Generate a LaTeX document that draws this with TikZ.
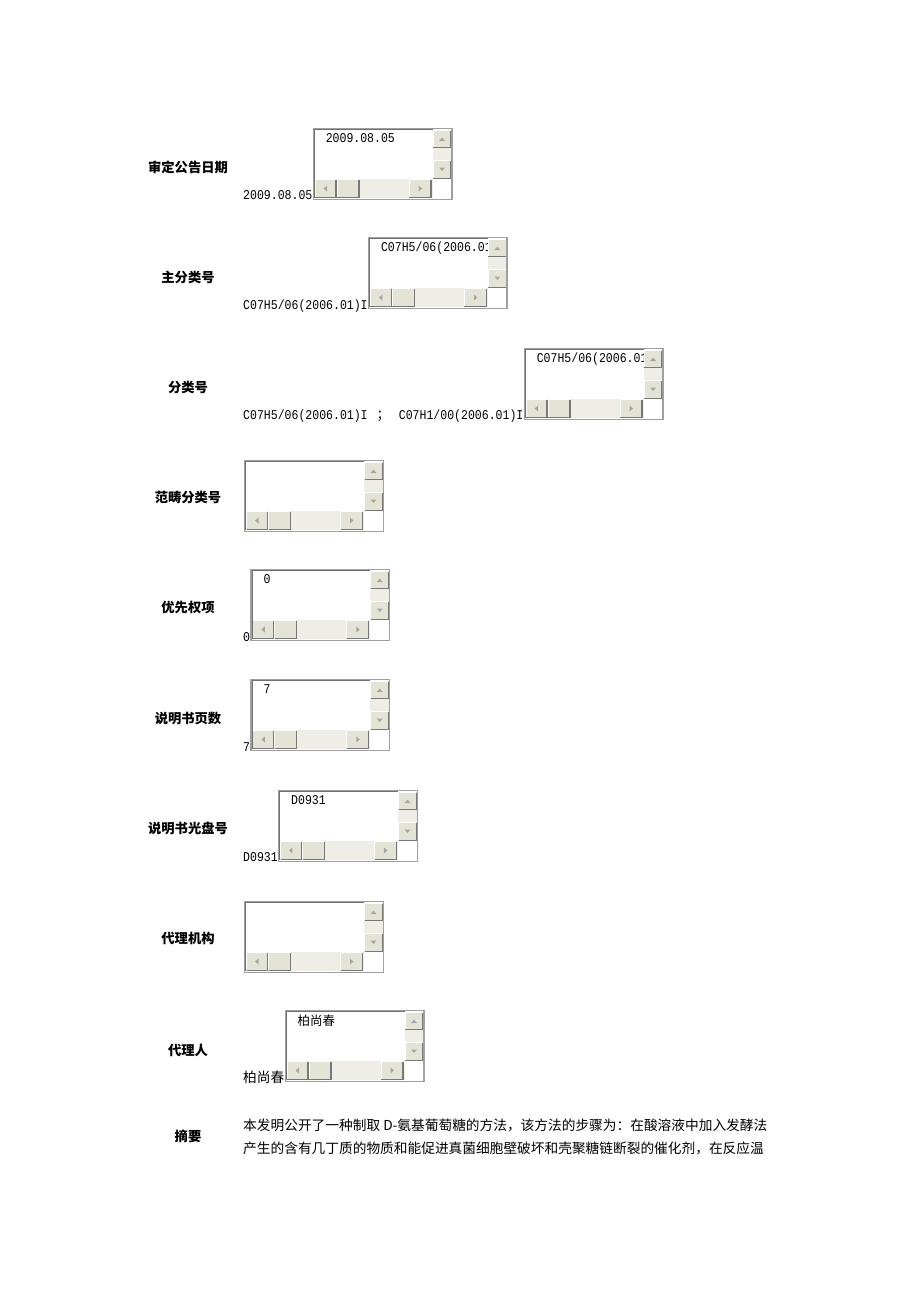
\documentclass[tikz,border=0pt]{standalone}
\usepackage{fontspec}
\newfontfamily\cjk{Noto Sans CJK SC}
\newfontfamily\mono[FakeStretch=0.86]{Liberation Mono}
\definecolor{frameGray}{HTML}{A0A0A0}
\definecolor{frameDark}{HTML}{707070}
\definecolor{btnFace}{HTML}{E4E4D6}
\definecolor{btnShade}{HTML}{787878}
\definecolor{trackGray}{HTML}{EEEEE6}
\definecolor{arrowGray}{HTML}{A6A6A6}

\begin{document}
\begin{tikzpicture}[
		x=1pt, y=-1pt,
		fieldname/.style={font=\cjk\bfseries\fontsize{13.3}{16}\selectfont, inner sep=0},
		fieldvalue/.style={font=\mono\fontsize{13.4}{15}\selectfont, inner sep=0, anchor=base west},
		cjkvalue/.style={font=\cjk\fontsize{13.7}{16}\selectfont, inner sep=0, anchor=base west},
		pics/listbox/.style={code={
			\fill[white] (0,0) rectangle (140,72);
			\node[fieldvalue, anchor=north west] (-txt) at (13,5) {#1};
			% scroll tracks
			\fill[trackGray] (120,2) rectangle (139,51);
			\fill[trackGray] (2,51) rectangle (120,70);
			\fill[white] (120,51) rectangle (139,71);
			% buttons
			\foreach \xa/\ya/\xb/\yb in {120/2/139/20, 120/32/139/51, 2/51/24/70, 24/51/47/70, 96/51/119/70}{
				\fill[btnFace] (\xa,\ya) rectangle (\xb,\yb);
				\draw[white, line width=1] (\xa+0.5,\yb-1) -- (\xa+0.5,\ya+0.5) -- (\xb-1,\ya+0.5);
				\draw[btnShade, line width=1.2] (\xa+0.6,\yb-0.6) -- (\xb-0.6,\yb-0.6) -- (\xb-0.6,\ya+0.5);
			}
			\fill[arrowGray] (126.5,13) -- (132.5,13) -- (129.5,9.5) -- cycle;
			\fill[arrowGray] (126.5,39.5) -- (132.5,39.5) -- (129.5,43) -- cycle;
			\fill[arrowGray] (14.5,57.5) -- (14.5,63.5) -- (11,60.5) -- cycle;
			\fill[arrowGray] (106,57.5) -- (106,63.5) -- (109.5,60.5) -- cycle;
			% frame
			\draw[frameGray, line width=1.4] (0.7,0.7) rectangle (139.3,71.3);
			\draw[frameDark, line width=0.8] (1.8,70) -- (1.8,1.8) -- (120,1.8);
		}}
		]
		
		\useasboundingbox (0,0) rectangle (920,1302);
		
		% field names
		\node[fieldname] (n1) at (188,167) {审定公告日期};
		\node[fieldname] (n2) at (188,277) {主分类号};
		\node[fieldname] (n3) at (188,387) {分类号};
		\node[fieldname] (n4) at (188,497) {范畴分类号};
		\node[fieldname] (n5) at (188,607) {优先权项};
		\node[fieldname] (n6) at (188,718) {说明书页数};
		\node[fieldname] (n7) at (188,828) {说明书光盘号};
		\node[fieldname] (n8) at (188,938) {代理机构};
		\node[fieldname] (n9) at (188,1050) {代理人};
		\node[fieldname] (n10) at (188,1136) {摘要};
		
		% values and list boxes
		\node[fieldvalue] (v1) at (243,199) {2009.08.05};
		\path (v1.east |- 0,128) pic (box1) {listbox={2009.08.05}};
		
		\node[fieldvalue] (v2) at (243,309) {C07H5/06(2006.01)I};
		\path (v2.east |- 0,237) pic (box2) {listbox={C07H5/06(2006.01)I}};
		
		\node[fieldvalue] (v3) at (243,419) {C07H5/06(2006.01)I\hspace{2pt} {\cjk ；}\hspace{2pt} C07H1/00(2006.01)I};
		\path (v3.east |- 0,348) pic (box3) {listbox={C07H5/06(2006.01)I}};
		
		\path (244,460) pic (box4) {listbox={}};
		
		\node[fieldvalue] (v5) at (243,641) {0};
		\path (v5.east |- 0,569) pic (box5) {listbox={0}};
		
		\node[fieldvalue] (v6) at (243,751) {7};
		\path (v6.east |- 0,679) pic (box6) {listbox={7}};
		
		\node[fieldvalue] (v7) at (243,861) {D0931};
		\path (v7.east |- 0,790) pic (box7) {listbox={D0931}};
		
		\path (244,901) pic (box8) {listbox={}};
		
		\node[cjkvalue] (v9) at (243,1082) {柏尚春};
		\path (v9.east |- 0,1010) pic (box9) {listbox={\cjk\fontsize{12.5}{14}\selectfont 柏尚春}};
		
		% abstract
		\node[cjkvalue] (abs1) at (243,1130) {本发明公开了一种制取 D-氨基葡萄糖的方法，该方法的步骤为：在酸溶液中加入发酵法};
		\node[cjkvalue] (abs2) at (243,1153) {产生的含有几丁质的物质和能促进真菌细胞壁破坏和壳聚糖链断裂的催化剂，在反应温};
		
	\end{tikzpicture}
\end{document}
